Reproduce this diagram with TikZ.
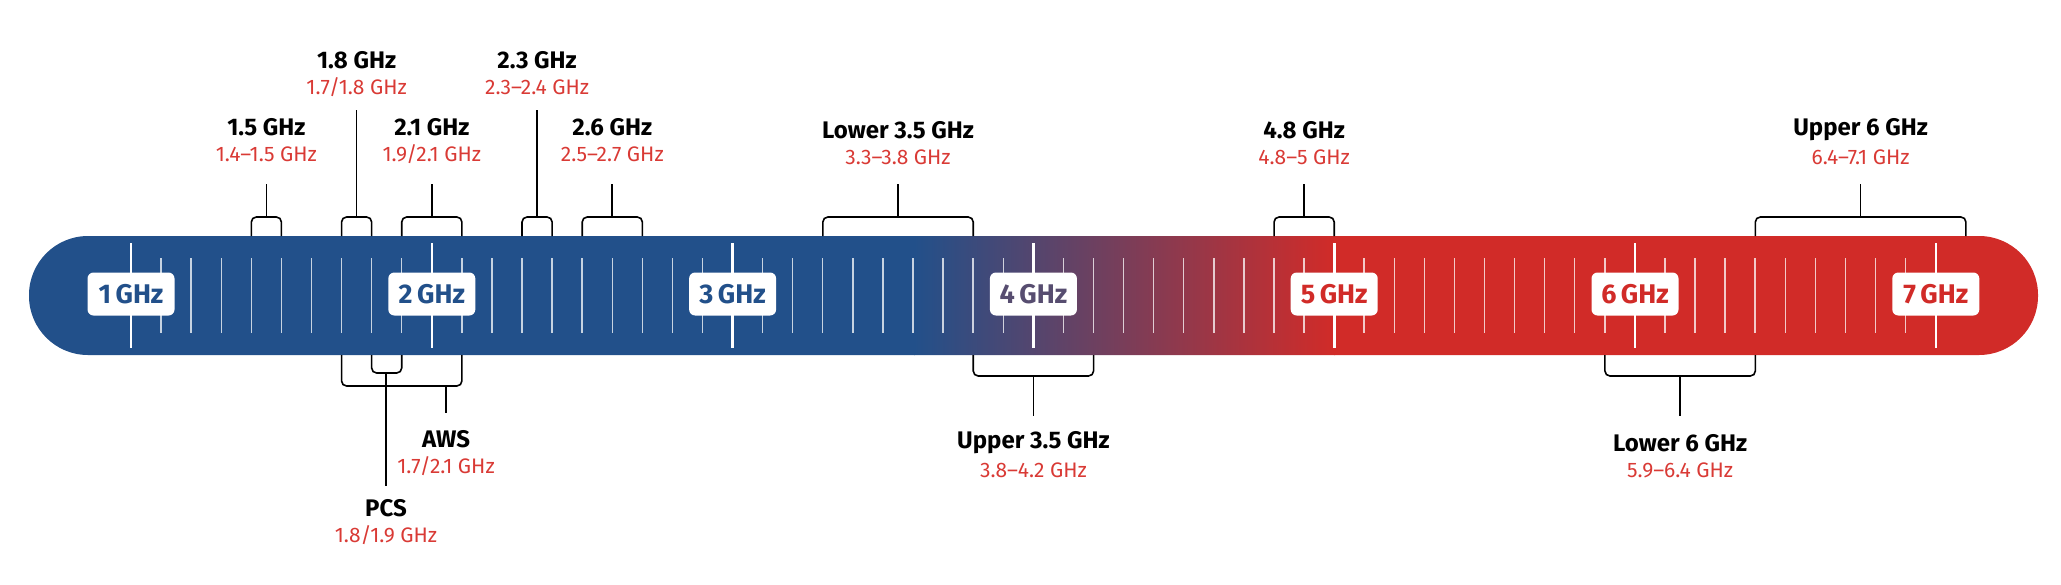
\documentclass[tikz,border=0pt]{standalone}
\usepackage{fontspec}
\setmainfont{Fira Sans}
\definecolor{bblue}{HTML}{22508A}
\definecolor{rred}{HTML}{D12B28}
\definecolor{ppur}{HTML}{574D70}
\definecolor{tred}{HTML}{D93A35}
\newcommand\FX[1]{131+(#1-1)*300.8}
\tikzset{
  x=1pt,y=-1pt,
  namelbl/.style={font=\fontsize{24}{26}\selectfont\bfseries,inner sep=0pt,text=black},
  rnglbl/.style={font=\fontsize{21}{24}\selectfont,inner sep=0pt,text=tred},
  brk/.style={draw=black,line width=1.6pt,rounded corners=5pt},
  stem/.style={draw=black,line width=1.6pt},
  ghzbox/.style={fill=white,rounded corners=6pt,minimum width=87pt,minimum height=43pt,inner sep=0pt,font=\fontsize{27}{30}\selectfont\bfseries},
  minortick/.style={draw=white,opacity=0.75,line width=1.4pt},
  majortick/.style={draw=white,line width=2.6pt}
}
\begin{document}
\begin{tikzpicture}
\useasboundingbox (0,0) rectangle (2061,584);
% bar
\begin{scope}
\clip[rounded corners=59pt] (29,236) rectangle (2038,355);
\fill[bblue] (0,230) rectangle (915,360);
\shade[left color=bblue,right color=rred] (914,230) rectangle (1335,360);
\fill[rred] (1334,230) rectangle (2061,360);
\end{scope}
% ticks
\foreach \f in {1.1,1.2,...,6.95}{\draw[minortick] ({\FX{\f}},258) -- ({\FX{\f}},333);}
\foreach \f in {1,...,7}{\draw[majortick] ({\FX{\f}},243) -- ({\FX{\f}},348);}
% GHz boxes
\node[ghzbox,text=bblue] (g1) at ({\FX{1}},294) {1\,GHz};
\node[ghzbox,text=bblue] (g2) at ({\FX{2}},294) {2\,GHz};
\node[ghzbox,text=bblue] (g3) at ({\FX{3}},294) {3\,GHz};
\node[ghzbox,text=ppur] (g4) at ({\FX{4}},294) {4\,GHz};
\node[ghzbox,text=rred] (g5) at ({\FX{5}},294) {5\,GHz};
\node[ghzbox,text=rred] (g6) at ({\FX{6}},294) {6\,GHz};
\node[ghzbox,text=rred] (g7) at ({\FX{7}},294) {7\,GHz};
% upper brackets: #1 name, #2 f1, #3 f2, #4 stem top y, #5 black y, #6 red y, #7 title, #8 range
\newcommand\UB[8]{%
  \draw[brk] ({\FX{#2}},236) -- ({\FX{#2}},217) -- ({\FX{#3}},217) -- ({\FX{#3}},236);
  \coordinate (#1b) at ({(\FX{#2}+\FX{#3})/2},217);
  \coordinate (#1t) at ({(\FX{#2}+\FX{#3})/2},#4);
  \draw[stem] (#1b) -- (#1t);
  \node[namelbl] (#1n) at ({(\FX{#2}+\FX{#3})/2},#5) {#7};
  \node[rnglbl] (#1r) at ({(\FX{#2}+\FX{#3})/2},#6) {#8};}
\UB{a}{1.4}{1.5}{184}{127}{154}{1.5 GHz}{1.4–1.5 GHz}
\UB{b}{1.7}{1.8}{110}{60}{87}{1.8 GHz}{1.7/1.8 GHz}
\UB{c}{1.9}{2.1}{184}{127}{154}{2.1 GHz}{1.9/2.1 GHz}
\UB{d}{2.3}{2.4}{110}{60}{87}{2.3 GHz}{2.3–2.4 GHz}
\UB{e}{2.5}{2.7}{184}{127}{154}{2.6 GHz}{2.5–2.7 GHz}
\UB{f}{3.3}{3.8}{184}{130}{157}{Lower 3.5 GHz}{3.3–3.8 GHz}
\UB{g}{4.8}{5.0}{184}{130}{157}{4.8 GHz}{4.8–5 GHz}
\UB{h}{6.4}{7.1}{184}{130}{157}{Upper 6 GHz}{6.4–7.1 GHz}
% lower brackets
\newcommand\LB[9]{%
  \draw[brk] ({\FX{#2}},355) -- ({\FX{#2}},#9) -- ({\FX{#3}},#9) -- ({\FX{#3}},355);
  \coordinate (#1b) at ({#4},#9);
  \coordinate (#1t) at ({#4},#5);
  \draw[stem] (#1b) -- (#1t);
  \node[namelbl] (#1n) at ({#4},#6) {#7};
  \node[rnglbl] (#1r) at ({#4},{#6+27}) {#8};}
\LB{i}{3.8}{4.2}{\FX{4.0}}{416}{443}{Upper 3.5 GHz}{3.8–4.2 GHz}{376}
\LB{j}{5.9}{6.4}{\FX{6.15}}{416}{443}{Lower 6 GHz}{5.9–6.4 GHz}{376}
\LB{k}{1.7}{2.1}{446}{413}{439}{AWS}{1.7/2.1 GHz}{386}
\LB{l}{1.8}{1.9}{386}{486}{508}{PCS}{1.8/1.9 GHz}{373}
\end{tikzpicture}
\end{document}
